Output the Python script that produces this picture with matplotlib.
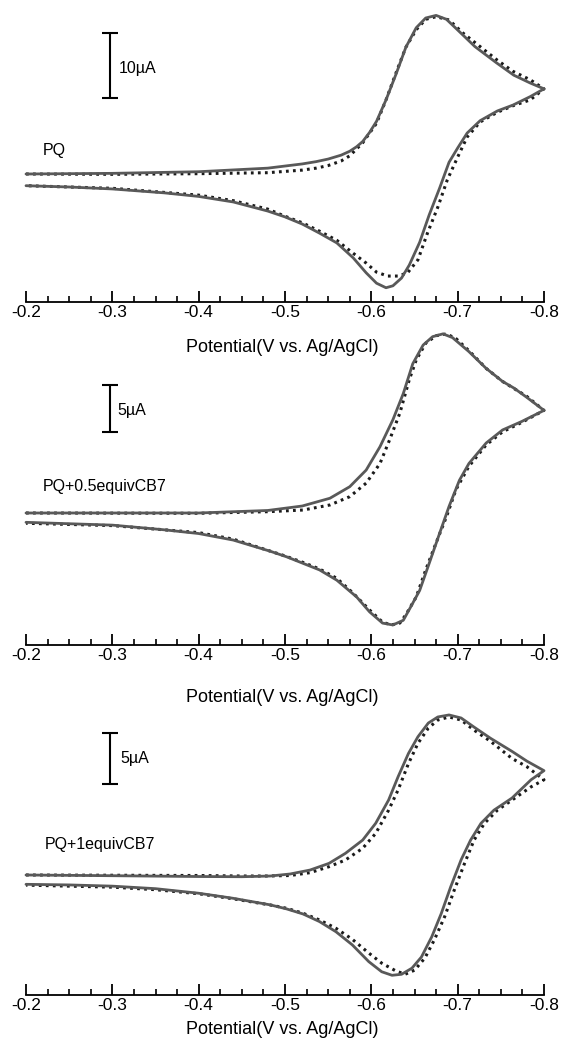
import numpy as np
import matplotlib
matplotlib.use("Agg")
import matplotlib.pyplot as plt
from matplotlib.ticker import MultipleLocator, FuncFormatter

plt.rcParams['font.family'] = ['Liberation Sans', 'DejaVu Sans']
plt.rcParams['axes.unicode_minus'] = False

# ---- data: (potential V vs Ag/AgCl, current uA) traced round each loop ----
# panel 1: PQ
pq_solid = [(-0.20, 0.0), (-0.30, 0.1), (-0.40, 0.35), (-0.48, 0.9), (-0.52, 1.55),
            (-0.536, 1.9), (-0.55, 2.3), (-0.565, 2.9), (-0.575, 3.5), (-0.583, 4.2),
            (-0.59, 5.0), (-0.598, 6.4), (-0.606, 8.1), (-0.617, 11.4),
            (-0.629, 15.5), (-0.640, 19.5), (-0.652, 22.5), (-0.663, 24.0), (-0.675, 24.4),
            (-0.687, 23.8), (-0.702, 21.9), (-0.72, 19.6), (-0.745, 17.1), (-0.765, 15.2),
            (-0.784, 14.0), (-0.80, 13.1),
            (-0.784, 11.9), (-0.764, 10.6), (-0.746, 9.7), (-0.726, 8.2), (-0.711, 6.3),
            (-0.700, 4.0), (-0.690, 1.8), (-0.679, -2.2), (-0.667, -6.3), (-0.656, -10.5),
            (-0.644, -14.0), (-0.635, -16.0), (-0.625, -17.2), (-0.617, -17.5), (-0.606, -16.8),
            (-0.594, -15.2), (-0.579, -12.9), (-0.560, -10.6), (-0.540, -9.1), (-0.520, -7.7),
            (-0.50, -6.6), (-0.48, -5.7), (-0.44, -4.3), (-0.40, -3.45), (-0.36, -2.9),
            (-0.30, -2.3), (-0.25, -2.0), (-0.20, -1.8)]
pq_dotted = [(-0.20, 0.0), (-0.30, -0.05), (-0.40, 0.05), (-0.48, 0.2), (-0.52, 0.6),
             (-0.536, 0.9), (-0.55, 1.3), (-0.565, 2.0), (-0.575, 2.8), (-0.59, 4.8),
             (-0.606, 7.8), (-0.617, 11.4),
             (-0.629, 15.7), (-0.640, 19.5), (-0.652, 22.2), (-0.663, 23.8), (-0.675, 24.2),
             (-0.69, 23.7), (-0.706, 21.7), (-0.726, 19.6), (-0.746, 17.5), (-0.764, 15.8),
             (-0.784, 14.5), (-0.80, 13.1),
             (-0.784, 11.4), (-0.764, 10.5), (-0.746, 9.5), (-0.726, 8.0), (-0.711, 5.7),
             (-0.700, 2.6), (-0.688, -0.9), (-0.677, -5.1), (-0.665, -9.1), (-0.654, -13.2),
             (-0.642, -15.2), (-0.631, -15.7), (-0.619, -15.7), (-0.606, -15.1), (-0.594, -13.7),
             (-0.579, -12.2), (-0.560, -10.2), (-0.540, -8.8), (-0.520, -7.5), (-0.50, -6.5),
             (-0.48, -5.4), (-0.44, -4.1), (-0.40, -3.25), (-0.30, -2.2), (-0.20, -1.8)]

# panel 2: PQ + 0.5 equiv CB7
half_solid = [(-0.20, 0.0), (-0.30, 0.0), (-0.40, 0.0), (-0.48, 0.27), (-0.52, 0.75),
              (-0.552, 1.58), (-0.575, 2.82), (-0.594, 4.6), (-0.610, 7.1), (-0.625, 10.0),
              (-0.637, 12.8), (-0.648, 16.0), (-0.660, 18.0), (-0.671, 18.9), (-0.683, 19.2),
              (-0.694, 18.8), (-0.713, 17.3), (-0.733, 15.5), (-0.752, 14.1), (-0.765, 13.4),
              (-0.78, 12.4), (-0.80, 11.0),
              (-0.774, 9.8), (-0.752, 8.9), (-0.733, 7.5), (-0.713, 5.3), (-0.702, 3.5),
              (-0.690, 0.7), (-0.679, -2.2), (-0.667, -5.4), (-0.656, -8.3), (-0.646, -10.0),
              (-0.637, -11.5), (-0.625, -12.0), (-0.613, -11.8), (-0.598, -10.6), (-0.583, -9.0),
              (-0.560, -7.2), (-0.540, -6.1), (-0.521, -5.4), (-0.502, -4.7), (-0.483, -4.1),
              (-0.44, -2.9), (-0.40, -2.2), (-0.36, -1.8), (-0.30, -1.3), (-0.20, -1.0)]
half_dotted = [(-0.20, 0.0), (-0.40, -0.03), (-0.48, 0.14), (-0.521, 0.32), (-0.552, 0.86),
               (-0.575, 1.75), (-0.594, 3.2), (-0.610, 5.3), (-0.621, 7.8), (-0.633, 10.7),
               (-0.644, 14.3), (-0.652, 16.4), (-0.663, 18.2), (-0.675, 19.0), (-0.687, 19.2),
               (-0.698, 18.7), (-0.713, 17.4), (-0.733, 15.5), (-0.752, 14.1), (-0.78, 12.5),
               (-0.80, 11.0),
               (-0.774, 9.7), (-0.752, 8.7), (-0.733, 7.3), (-0.713, 5.0), (-0.698, 2.5),
               (-0.687, -0.4), (-0.675, -3.2), (-0.663, -6.1), (-0.652, -9.0), (-0.640, -10.9),
               (-0.633, -11.8), (-0.623, -12.0), (-0.613, -11.7), (-0.598, -10.4), (-0.579, -8.6),
               (-0.560, -7.0), (-0.540, -6.0), (-0.521, -5.3), (-0.50, -4.6), (-0.48, -4.0),
               (-0.44, -2.8), (-0.40, -2.1), (-0.30, -1.35), (-0.20, -1.1)]

# panel 3: PQ + 1 equiv CB7
one_solid = [(-0.20, 0.0), (-0.30, -0.07), (-0.40, -0.15), (-0.45, -0.17), (-0.483, -0.1),
             (-0.506, 0.1), (-0.529, 0.49), (-0.551, 1.15), (-0.570, 2.14), (-0.590, 3.45),
             (-0.605, 5.1), (-0.620, 7.4), (-0.631, 9.7), (-0.643, 12.0), (-0.654, 13.65),
             (-0.666, 15.0), (-0.677, 15.6), (-0.690, 15.8), (-0.704, 15.5), (-0.719, 14.6),
             (-0.738, 13.5), (-0.763, 12.2), (-0.78, 11.25), (-0.80, 10.3),
             (-0.785, 9.4), (-0.763, 7.6), (-0.742, 6.4), (-0.727, 5.1), (-0.715, 3.45),
             (-0.704, 1.5), (-0.692, -1.15), (-0.681, -3.8), (-0.670, -6.1), (-0.658, -8.1),
             (-0.647, -9.2), (-0.635, -9.8), (-0.624, -9.9), (-0.612, -9.55), (-0.597, -8.55),
             (-0.578, -6.9), (-0.559, -5.6), (-0.540, -4.6), (-0.521, -3.85), (-0.502, -3.35),
             (-0.483, -2.95), (-0.44, -2.3), (-0.40, -1.8), (-0.35, -1.35), (-0.30, -1.1),
             (-0.25, -0.98), (-0.20, -0.92)]
one_dotted = [(-0.20, 0.0), (-0.40, -0.05), (-0.45, -0.1), (-0.48, -0.1), (-0.506, -0.05),
              (-0.529, 0.23),
              (-0.551, 0.82), (-0.570, 1.48), (-0.590, 2.64), (-0.605, 4.1), (-0.620, 6.4),
              (-0.631, 8.4), (-0.643, 11.0), (-0.654, 13.0), (-0.666, 14.5), (-0.677, 15.3),
              (-0.690, 15.6), (-0.704, 15.3), (-0.719, 14.3), (-0.738, 13.2), (-0.763, 11.5),
              (-0.78, 10.7), (-0.80, 9.4),
              (-0.785, 8.7), (-0.763, 7.4), (-0.746, 6.4), (-0.731, 5.1), (-0.719, 3.45),
              (-0.708, 1.15), (-0.696, -1.5), (-0.685, -4.1), (-0.673, -6.4), (-0.662, -8.2),
              (-0.650, -9.4), (-0.639, -9.8), (-0.628, -9.45), (-0.612, -8.7), (-0.597, -7.7),
              (-0.578, -6.35), (-0.559, -5.26), (-0.540, -4.44), (-0.521, -3.78), (-0.502, -3.29),
              (-0.483, -2.96), (-0.44, -2.35), (-0.40, -1.85), (-0.35, -1.45), (-0.30, -1.2),
              (-0.20, -1.0)]

labels = ['PQ', 'PQ+0.5equivCB7', 'PQ+1equivCB7']
scale_uA = [10, 5, 5]
x_ticks = [-0.2, -0.3, -0.4, -0.5, -0.6, -0.7, -0.8]

# ---- layout in pixels of the 562x1041 picture ----
W, H = 562, 1041
layout = [
    dict(top=0, axis=302, zero=174, ppu=6.5, lab=(43, 150), bar_txt=(119, 68), xlab=348),
    dict(top=330, axis=645, zero=513, ppu=9.33, lab=(43, 487), bar_txt=(117, 410), xlab=698),
    dict(top=700, axis=995, zero=875, ppu=10.13, lab=(45, 845), bar_txt=(120, 759), xlab=1030),
]
bar_top_px = [33, 385, 733]
bar_x = -0.297

fig = plt.figure(figsize=(W / 100, H / 100), dpi=100)
solid_col = '#595959'
dot_col = '#1a1a1a'

for k, (lay, solid, dotted) in enumerate(zip(layout, [pq_solid, half_solid, one_solid],
                                            [pq_dotted, half_dotted, one_dotted])):
    ax = fig.add_axes([26 / W, 1 - lay['axis'] / H, 518 / W, (lay['axis'] - lay['top']) / H])
    ylo = -(lay['axis'] - lay['zero']) / lay['ppu']
    yhi = (lay['zero'] - lay['top']) / lay['ppu']
    ax.set_xlim(-0.2, -0.8)
    ax.set_ylim(ylo, yhi)

    s = np.array(solid)
    d = np.array(dotted)
    ax.plot(d[:, 0], d[:, 1], color=dot_col, lw=2.2, linestyle=(0, (0.9, 1.4)),
            dash_capstyle='butt', clip_on=False, zorder=2)
    ax.plot(s[:, 0], s[:, 1], color=solid_col, lw=2.0, solid_joinstyle='round',
            solid_capstyle='round', clip_on=False, zorder=3)

    # scale bar
    top_uA = (lay['zero'] - bar_top_px[k]) / lay['ppu']
    ax.errorbar([bar_x], [top_uA - scale_uA[k] / 2], yerr=[scale_uA[k] / 2], color='black',
                capsize=6, elinewidth=1.5, capthick=1.5, fmt='none')
    fig.text(lay['bar_txt'][0] / W, 1 - lay['bar_txt'][1] / H, f'{scale_uA[k]}µA',
             fontsize=11.5, va='center', ha='left')
    fig.text(lay['lab'][0] / W, 1 - lay['lab'][1] / H, labels[k],
             fontsize=11.5, va='center', ha='left')
    fig.text(282 / W, 1 - lay['xlab'] / H, 'Potential(V vs. Ag/AgCl)',
             fontsize=13, va='center', ha='center')

    for side in ['left', 'right', 'top']:
        ax.spines[side].set_visible(False)
    ax.spines['bottom'].set_linewidth(1.3)
    ax.set_yticks([])
    ax.set_xticks(x_ticks)
    ax.xaxis.set_minor_locator(MultipleLocator(0.025))
    ax.xaxis.set_major_formatter(FuncFormatter(lambda v, _: f'{v:.1f}'))
    ax.tick_params(axis='x', which='major', direction='in', length=8, width=1.3,
                   labelsize=12.5, pad=2)
    ax.tick_params(axis='x', which='minor', direction='in', length=4.3, width=1.2)
    ax.patch.set_visible(False)

fig.savefig('out.png', dpi=100)
